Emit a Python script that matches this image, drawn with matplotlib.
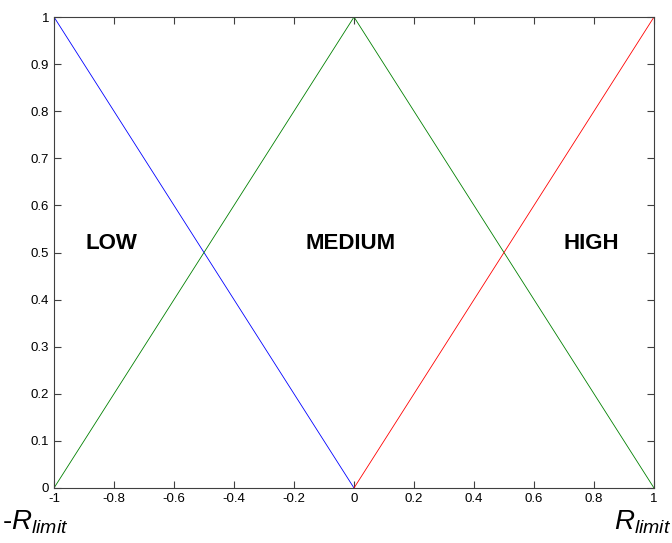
import matplotlib
matplotlib.use('Agg')
import matplotlib.pyplot as plt

plt.rcParams['font.family'] = ['Liberation Sans', 'DejaVu Sans']
plt.rcParams['mathtext.fontset'] = 'custom'
plt.rcParams['mathtext.rm'] = 'Liberation Sans'
plt.rcParams['mathtext.it'] = 'Liberation Sans:italic'

# membership functions (breakpoints)
low_x = [-1, 0]
low_y = [1, 0]
medium_x = [-1, 0, 1]
medium_y = [0, 1, 0]
high_x = [0, 1]
high_y = [0, 1]

labels = ['LOW', 'MEDIUM', 'HIGH']
label_x = [-0.81, -0.01, 0.79]
label_y = [0.52, 0.52, 0.52]

xticks = [-1, -0.8, -0.6, -0.4, -0.2, 0, 0.2, 0.4, 0.6, 0.8, 1]
yticks = [0, 0.1, 0.2, 0.3, 0.4, 0.5, 0.6, 0.7, 0.8, 0.9, 1]

fig = plt.figure(figsize=(6.72, 5.43), dpi=100)
ax = fig.add_axes([54/672, 55/543, 600/672, 471/543])

ax.plot(low_x, low_y, color='#0000ff', lw=0.6)
ax.plot(medium_x, medium_y, color='#008000', lw=0.6)
ax.plot(high_x, high_y, color='#ff0000', lw=0.6)

for t, x, y in zip(labels, label_x, label_y):
    ax.text(x, y, t, ha='center', va='center', fontsize=16, fontweight='bold')

ax.set_xlim(-1, 1)
ax.set_ylim(0, 1)
ax.set_xticks(xticks)
ax.set_yticks(yticks)
ax.set_xticklabels([f'{v:g}' for v in xticks])
ax.set_yticklabels([f'{v:g}' for v in yticks])
ax.tick_params(direction='in', top=True, right=True, length=5, width=0.8,
               colors='#404040', labelcolor='black', labelsize=9.5)
for s in ax.spines.values():
    s.set_color('#404040')
    s.set_linewidth(0.8)

fig.text(2/672, 1 - 522/543, r'-$\mathit{R}_{\mathit{limit}}$', fontsize=20,
         ha='left', va='center')
fig.text(671/672, 1 - 522/543, r'$\mathit{R}_{\mathit{limit}}$', fontsize=20,
         ha='right', va='center')

fig.savefig('out.png', dpi=100)
